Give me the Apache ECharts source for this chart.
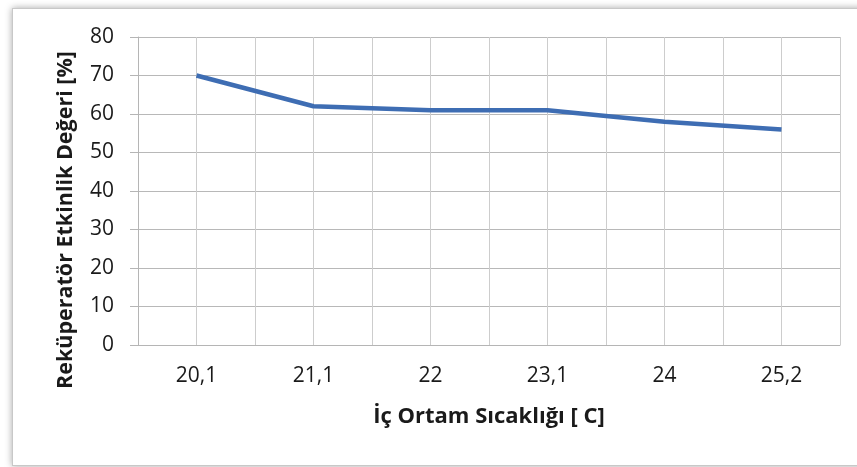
<!DOCTYPE html>
<html>
<head>
<meta charset="utf-8">
<script src="https://cdn.jsdelivr.net/npm/echarts@6/dist/echarts.min.js"></script>
<style>
  html, body { margin: 0; padding: 0; background: #fff; overflow: hidden; }
  .frame {
    position: absolute; left: 12px; top: 8px; width: 870px; height: 456px;
    border: 1px solid #c8c8c8; box-shadow: 0 0 7px rgba(0,0,0,0.35); background: #fff;
  }
  #chart { position: absolute; left: 0; top: 0; width: 857px; height: 467px; }
</style>
</head>
<body>
<div class="frame"></div>
<div id="chart"></div>
<script>
// İç ortam sıcaklığı kategorileri
const categories = ['20,1', '21,1', '22', '23,1', '24', '25,2']
// Reküperatör etkinlik değeri [%]
const efficiency = [70, 62, 61, 61, 58, 56]
const yTicks = { min: 0, max: 80, interval: 10 }

const font = '"Open Sans", "Noto Sans", sans-serif'
const chart = echarts.init(document.getElementById('chart'))

chart.setOption({
  animation: false,
  grid: { left: 138, right: 17, top: 37, bottom: 122 },
  xAxis: {
    type: 'category',
    data: categories,
    boundaryGap: true,
    name: 'İç Ortam Sıcaklığı [ C]',
    nameLocation: 'middle',
    nameGap: 61,
    nameTextStyle: { fontFamily: font, fontSize: 22, fontWeight: 'bold', color: '#1a1a1a' },
    axisLine: { lineStyle: { color: '#b5b5b5', width: 1 } },
    axisTick: { show: false },
    axisLabel: { margin: 21, fontFamily: font, fontSize: 21, color: '#1a1a1a' },
    splitLine: { show: true, lineStyle: { color: '#cdcdcd', width: 1 } }
  },
  yAxis: {
    type: 'value',
    min: yTicks.min,
    max: yTicks.max,
    interval: yTicks.interval,
    name: 'Reküperatör Etkinlik Değeri [%]',
    nameLocation: 'middle',
    nameGap: 61,
    // metni eksen ortasından biraz aşağı kaydır
    nameTextStyle: { fontFamily: font, fontSize: 21.5, fontWeight: 'bold', color: '#1a1a1a', padding: [0, 58, 0, 0] },
    axisLine: { show: true, lineStyle: { color: '#b5b5b5', width: 1 } },
    axisTick: { show: true, length: 8, lineStyle: { color: '#b5b5b5' } },
    axisLabel: { margin: 24, fontFamily: font, fontSize: 21, color: '#1a1a1a' },
    splitLine: { show: true, lineStyle: { color: '#b8b8b8', width: 1 } }
  },
  series: [{
    type: 'line',
    data: efficiency,
    showSymbol: false,
    lineStyle: { color: '#3e6db3', width: 4.5 },
    // kategorilerin ortasındaki dikey çizgiler
    markLine: {
      silent: true,
      symbol: 'none',
      label: { show: false },
      lineStyle: { color: '#cdcdcd', width: 1, type: 'solid' },
      z: 1,
      data: categories.map(c => ({ xAxis: c }))
    }
  }]
})
</script>
</body>
</html>
